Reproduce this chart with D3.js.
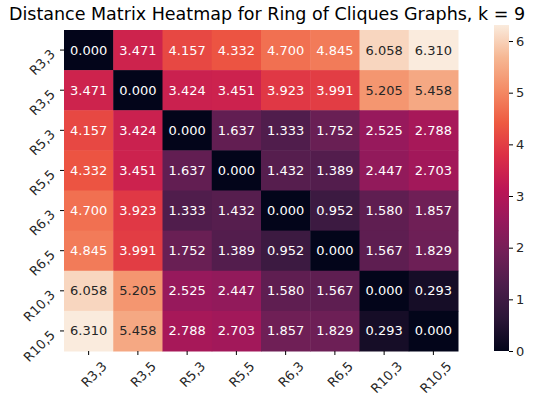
<!DOCTYPE html>
<html><head><meta charset="utf-8">
<script src="https://cdn.jsdelivr.net/npm/d3@7"></script>
<style>body{margin:0;background:#fff}text{font-family:"DejaVu Sans",sans-serif}</style>
</head><body><div id="chart"></div>
<script>
// data
const labels = ["R3,3","R3,5","R5,3","R5,5","R6,3","R6,5","R10,3","R10,5"];
const matrix = [
  [0.000,3.471,4.157,4.332,4.700,4.845,6.058,6.310],
  [3.471,0.000,3.424,3.451,3.923,3.991,5.205,5.458],
  [4.157,3.424,0.000,1.637,1.333,1.752,2.525,2.788],
  [4.332,3.451,1.637,0.000,1.432,1.389,2.447,2.703],
  [4.700,3.923,1.333,1.432,0.000,0.952,1.580,1.857],
  [4.845,3.991,1.752,1.389,0.952,0.000,1.567,1.829],
  [6.058,5.205,2.525,2.447,1.580,1.567,0.000,0.293],
  [6.310,5.458,2.788,2.703,1.857,1.829,0.293,0.000]
];
const cbTicks = [0,1,2,3,4,5,6];
const rocket = ["#03051a","#2b1637","#4c1d4b","#711f57","#97195c","#bd1655","#dc2f46","#ee5a41","#f48b65","#f6b793","#faebdd"];

const W = 534, H = 404;
const svg = d3.select("#chart").append("svg").attr("width", W).attr("height", H);
const vmax = 6.31;
const color = d3.scaleLinear().domain(d3.range(rocket.length).map(i => i * vmax / (rocket.length - 1))).range(rocket);

const x = d3.scaleBand().domain(labels).range([64, 458]);
const y = d3.scaleBand().domain(labels).range([30, 351]);

svg.append("text").attr("x", 267).attr("y", 20).attr("text-anchor", "middle")
  .style("font-size", "17.5px").text("Distance Matrix Heatmap for Ring of Cliques Graphs, k = 9");

const cells = [];
matrix.forEach((row, i) => row.forEach((v, j) => cells.push({r: labels[i], c: labels[j], v})));

svg.selectAll("rect.cell").data(cells).enter().append("rect")
  .attr("x", d => x(d.c)).attr("y", d => y(d.r))
  .attr("width", x.bandwidth() + 0.5).attr("height", y.bandwidth() + 0.5)
  .attr("fill", d => color(d.v));

svg.selectAll("text.val").data(cells).enter().append("text")
  .attr("x", d => x(d.c) + x.bandwidth() / 2).attr("y", d => y(d.r) + y.bandwidth() / 2)
  .attr("dy", "0.35em").attr("text-anchor", "middle").style("font-size", "13px")
  .attr("fill", d => d.v > 5 ? "#262626" : "#fff")
  .text(d => d.v.toFixed(3));

// axes
const xa = svg.append("g").attr("transform", "translate(0,351)")
  .call(d3.axisBottom(x).tickSize(4).tickPadding(4));
xa.select(".domain").remove();
xa.selectAll("text").style("font-size", "13px").attr("fill", "#262626")
  .attr("text-anchor", "end").attr("transform", "translate(7,4)rotate(-45)").attr("dy", "0.7em");

const ya = svg.append("g").attr("transform", "translate(64,0)")
  .call(d3.axisLeft(y).tickSize(4).tickPadding(3));
ya.select(".domain").remove();
ya.selectAll("text").style("font-size", "13px").attr("fill", "#262626")
  .attr("text-anchor", "end")
  .attr("transform", "translate(-4,2) rotate(-45,-7,0)");

// colorbar
const cb = d3.scaleLinear().domain([0, vmax]).range([351, 25]);
const grad = svg.append("defs").append("linearGradient").attr("id", "g").attr("x1", 0).attr("x2", 0).attr("y1", 1).attr("y2", 0);
rocket.forEach((c, i) => grad.append("stop").attr("offset", i / (rocket.length - 1)).attr("stop-color", c));
svg.append("rect").attr("x", 494).attr("y", 25).attr("width", 15).attr("height", 326).attr("fill", "url(#g)");
const ca = svg.append("g").attr("transform", "translate(509,0)")
  .call(d3.axisRight(cb).tickValues(cbTicks).tickSize(4).tickFormat(d3.format("d")));
ca.select(".domain").remove();
ca.selectAll("text").style("font-size", "13px").attr("fill", "#262626");
</script></body></html>
